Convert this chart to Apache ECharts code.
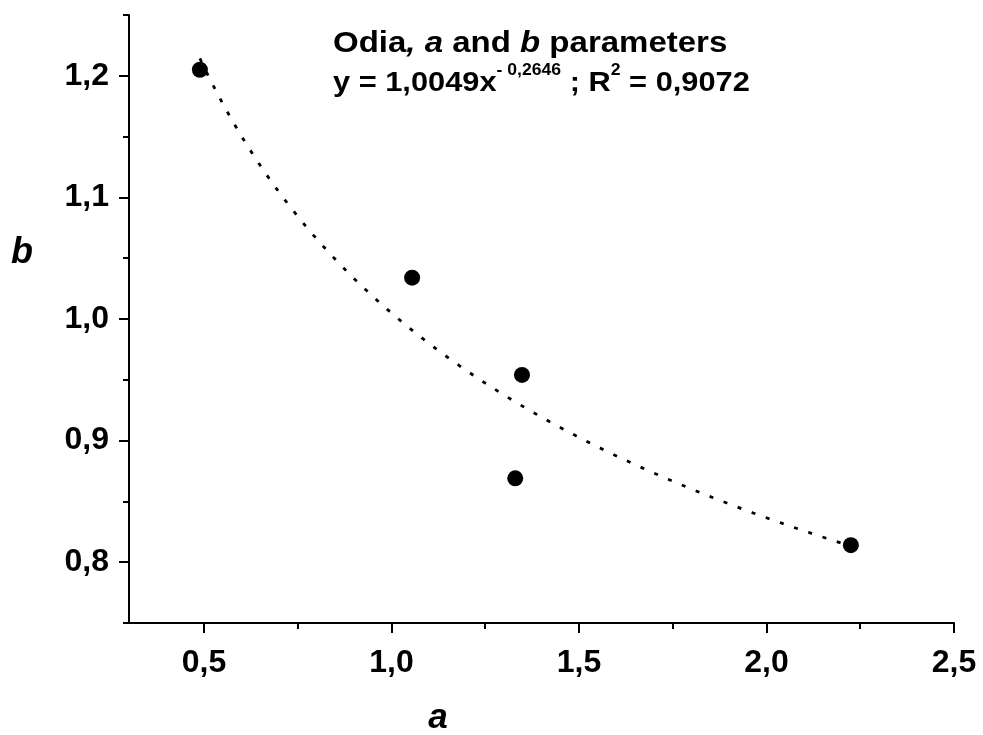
<!DOCTYPE html>
<html>
<head>
<meta charset="utf-8">
<script src="https://cdn.jsdelivr.net/npm/echarts@6/dist/echarts.min.js"></script>
<style>
  html, body { margin: 0; padding: 0; background: #fff; }
  #chart { width: 983px; height: 735px; }
</style>
</head>
<body>
<div id="chart"></div>
<script>
// Observed a and b parameters
const aValues = [0.489, 1.055, 1.348, 1.330, 2.225];
const bValues = [1.205, 1.034, 0.954, 0.869, 0.814];

// Power-law fit y = k * x^p, coefficients as stated in the heading
const fitK = 1.0049;
const fitP = -0.2646;
const fitR2 = '0,9072';

// Axis ticks
const xMajorTicks = [0.5, 1.0, 1.5, 2.0, 2.5];
const xMinorTicks = [0.75, 1.25, 1.75, 2.25];
const yMajorTicks = [0.8, 0.9, 1.0, 1.1, 1.2];
const yMinorTicks = [0.75, 0.85, 0.95, 1.05, 1.15, 1.25];

const points = aValues.map((a, i) => [a, bValues[i]]);

// Trend line sampled along the fitted curve between the extreme a values
const aMin = Math.min(...aValues), aMax = Math.max(...aValues);
const fitLine = [];
for (let i = 0; i <= 80; i++) {
  const x = aMin + (aMax - aMin) * i / 80;
  fitLine.push([x, fitK * Math.pow(x, fitP)]);
}

const fmt = v => v.toFixed(1).replace('.', ',');
const FONT = '"Liberation Sans", Arial, sans-serif';
const black = '#000';

const chart = echarts.init(document.getElementById('chart'), null, { renderer: 'canvas' });

const axisLineStyle = { show: true, lineStyle: { color: black, width: 2 } };

chart.setOption({
  animation: false,
  backgroundColor: '#fff',
  grid: { left: 129, right: 29, top: 15, bottom: 112, containLabel: false },
  xAxis: [
    {
      type: 'value', min: 0.3, max: 2.5, position: 'bottom',
      axisLine: axisLineStyle,
      axisTick: { show: true, inside: false, length: 10, customValues: xMajorTicks,
                  lineStyle: { color: black, width: 2 } },
      axisLabel: { customValues: xMajorTicks, formatter: fmt, margin: 24,
                   fontFamily: FONT, fontWeight: 'bold', fontSize: 32, color: black },
      splitLine: { show: false }
    },
    {
      type: 'value', min: 0.3, max: 2.5, position: 'bottom', offset: 0,
      axisLine: { show: false },
      axisTick: { show: true, inside: false, length: 6, customValues: xMinorTicks,
                  lineStyle: { color: black, width: 2 } },
      axisLabel: { show: false },
      splitLine: { show: false }
    }
  ],
  yAxis: [
    {
      type: 'value', min: 0.75, max: 1.25, position: 'left',
      axisLine: axisLineStyle,
      axisTick: { show: true, inside: false, length: 10, customValues: yMajorTicks,
                  lineStyle: { color: black, width: 2 } },
      axisLabel: { customValues: yMajorTicks, formatter: fmt, margin: 20,
                   fontFamily: FONT, fontWeight: 'bold', fontSize: 32, color: black },
      splitLine: { show: false }
    },
    {
      type: 'value', min: 0.75, max: 1.25, position: 'left', offset: 0,
      axisLine: { show: false },
      axisTick: { show: true, inside: false, length: 6, customValues: yMinorTicks,
                  lineStyle: { color: black, width: 2 } },
      axisLabel: { show: false },
      splitLine: { show: false }
    }
  ],
  series: [
    {
      type: 'line', xAxisIndex: 0, yAxisIndex: 0,
      data: fitLine, showSymbol: false, smooth: false,
      lineStyle: { color: black, width: 2.8, type: [4, 11] },
      z: 2
    },
    {
      type: 'scatter', xAxisIndex: 0, yAxisIndex: 0,
      data: points, symbol: 'circle', symbolSize: 16,
      itemStyle: { color: black, opacity: 1 },
      z: 3
    }
  ],
  graphic: [
    {
      type: 'text', x: 333, y: 44, scaleX: 1.1,
      style: {
        text: '{n|Odia}{i|, a}{n| and }{i|b}{n| parameters}',
        verticalAlign: 'middle',
        rich: {
          n: { fontFamily: FONT, fontWeight: 'bold', fontSize: 30, fill: black },
          i: { fontFamily: FONT, fontWeight: 'bold', fontStyle: 'italic', fontSize: 30, fill: black }
        }
      }
    },
    {
      type: 'text', x: 333, y: 80, scaleX: 1.1,
      style: {
        text: '{n|y = 1,0049x}{s|- 0,2646}{n| ; R}{s|2}{n| = ' + fitR2 + '}',
        verticalAlign: 'middle',
        rich: {
          n: { fontFamily: FONT, fontWeight: 'bold', fontSize: 28, lineHeight: 34, fill: black, verticalAlign: 'bottom' },
          s: { fontFamily: FONT, fontWeight: 'bold', fontSize: 16, lineHeight: 34, fill: black, verticalAlign: 'top' }
        }
      }
    },
    {
      type: 'text', x: 438, y: 718,
      style: {
        text: 'a', align: 'center', verticalAlign: 'middle',
        font: 'italic bold 35px ' + FONT, fill: black
      }
    },
    {
      type: 'text', x: 22, y: 253,
      style: {
        text: 'b', align: 'center', verticalAlign: 'middle',
        font: 'italic bold 36px ' + FONT, fill: black
      }
    }
  ]
});
</script>
</body>
</html>
